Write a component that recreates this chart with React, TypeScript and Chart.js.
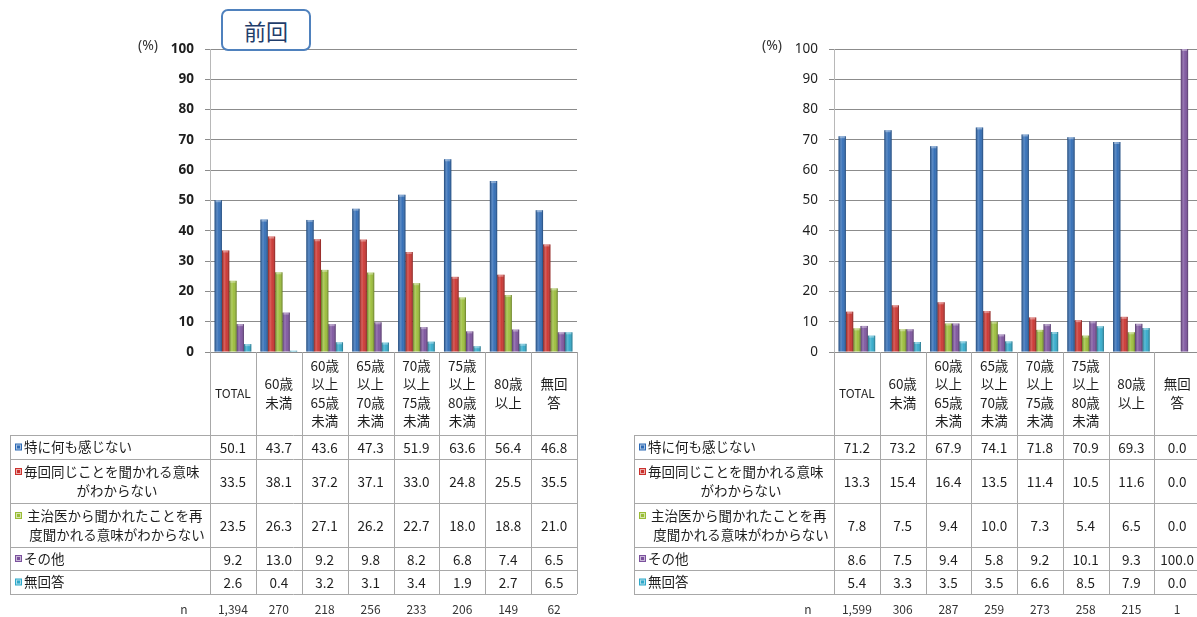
import React, { useEffect, useRef } from "react";
import { Chart, registerables } from "chart.js";

Chart.register(...registerables);

// ---------- data ----------
const categoryLines: string[][] = [
  ["TOTAL"],
  ["60歳", "未満"],
  ["60歳", "以上", "65歳", "未満"],
  ["65歳", "以上", "70歳", "未満"],
  ["70歳", "以上", "75歳", "未満"],
  ["75歳", "以上", "80歳", "未満"],
  ["80歳", "以上"],
  ["無回", "答"],
];
const categories = categoryLines.map((l) => l.join(""));

const seriesLabelLines: string[][] = [
  ["特に何も感じない"],
  ["毎回同じことを聞かれる意味", "がわからない"],
  [" 主治医から聞かれたことを再", "度聞かれる意味がわからない"],
  ["その他"],
  ["無回答"],
];
const seriesColors = ["#2d6ab5", "#cb312d", "#9abd36", "#7b519d", "#2fa9ca"];

// 前回 (previous survey)
const prevNothing = [50.1, 43.7, 43.6, 47.3, 51.9, 63.6, 56.4, 46.8];
const prevMeaningSame = [33.5, 38.1, 37.2, 37.1, 33.0, 24.8, 25.5, 35.5];
const prevMeaningAgain = [23.5, 26.3, 27.1, 26.2, 22.7, 18.0, 18.8, 21.0];
const prevOther = [9.2, 13.0, 9.2, 9.8, 8.2, 6.8, 7.4, 6.5];
const prevNoAnswer = [2.6, 0.4, 3.2, 3.1, 3.4, 1.9, 2.7, 6.5];
const prevN = ["1,394", "270", "218", "256", "233", "206", "149", "62"];

// 今回 (current survey)
const curNothing = [71.2, 73.2, 67.9, 74.1, 71.8, 70.9, 69.3, 0.0];
const curMeaningSame = [13.3, 15.4, 16.4, 13.5, 11.4, 10.5, 11.6, 0.0];
const curMeaningAgain = [7.8, 7.5, 9.4, 10.0, 7.3, 5.4, 6.5, 0.0];
const curOther = [8.6, 7.5, 9.4, 5.8, 9.2, 10.1, 9.3, 100.0];
const curNoAnswer = [5.4, 3.3, 3.5, 3.5, 6.6, 8.5, 7.9, 0.0];
const curN = ["1,599", "306", "287", "259", "273", "258", "215", "1"];

const yMin = 0;
const yMax = 100;
const yStep = 10;
const unitLabel = "(%)";
const prevTitle = "前回";

// ---------- layout / style constants ----------
const LABEL_COL_W = 200;
const HEADER_H = 83;
const ROW_H = [24, 44, 44, 23, 24];
const N_ROW_OFFSET = 257;
const CJK = '"Noto Sans CJK JP", "Noto Sans", sans-serif';
const TEXT = "#1e1e1e";
const BORDER = "#a8a8a8";

function seriesOf(which: "prev" | "cur"): number[][] {
  return which === "prev"
    ? [prevNothing, prevMeaningSame, prevMeaningAgain, prevOther, prevNoAnswer]
    : [curNothing, curMeaningSame, curMeaningAgain, curOther, curNoAnswer];
}

const barShadePlugin = {
  id: "barShade",
  afterDatasetsDraw(chart: any) {
    const ctx = chart.ctx;
    ctx.save();
    chart.data.datasets.forEach((_: any, di: number) => {
      const meta = chart.getDatasetMeta(di);
      meta.data.forEach((el: any) => {
        const p = el.getProps(["x", "y", "base", "width"], true);
        const l = p.x - p.width / 2;
        const r = p.x + p.width / 2;
        const top = Math.min(p.y, p.base);
        const h = Math.abs(p.base - p.y);
        if (h < 0.5) return;
        const g = ctx.createLinearGradient(l, 0, r, 0);
        g.addColorStop(0, "rgba(0,0,0,0.35)");
        g.addColorStop(0.35, "rgba(255,255,255,0.22)");
        g.addColorStop(0.6, "rgba(255,255,255,0.05)");
        g.addColorStop(1, "rgba(0,0,0,0.35)");
        ctx.fillStyle = g;
        ctx.fillRect(l, top, r - l, h);
        ctx.fillStyle = "rgba(255,255,255,0.35)";
        ctx.fillRect(l + 1, top, r - l - 2, Math.min(2, h));
      });
    });
    ctx.restore();
  },
};

function makeTablePlugin(which: "prev" | "cur") {
  const series = seriesOf(which);
  const nLabels = which === "prev" ? prevN : curN;
  return {
    id: "dataTable",
    afterDraw(chart: any) {
      const { ctx, chartArea } = chart;
      const xs = chart.scales.x;
      const n = categories.length;
      const left = chartArea.left;
      const right = chartArea.right;
      const top0 = chartArea.bottom;
      const cw = (right - left) / n;
      const labelLeft = left - LABEL_COL_W;
      const headerBottom = top0 + HEADER_H;
      const rowTops = [headerBottom];
      ROW_H.forEach((h) => rowTops.push(rowTops[rowTops.length - 1] + h));
      const tableBottom = rowTops[rowTops.length - 1];

      ctx.save();
      ctx.strokeStyle = BORDER;
      ctx.lineWidth = 1;
      const line = (x1: number, y1: number, x2: number, y2: number) => {
        ctx.beginPath();
        ctx.moveTo(x1, y1);
        ctx.lineTo(x2, y2);
        ctx.stroke();
      };
      for (let i = 0; i <= n; i++) {
        const x = Math.round(left + i * cw) + 0.5;
        line(x, top0, x, tableBottom);
      }
      rowTops.forEach((y) => {
        const yy = Math.round(y) + 0.5;
        line(labelLeft, yy, right, yy);
      });
      line(Math.round(labelLeft) + 0.5, headerBottom, Math.round(labelLeft) + 0.5, tableBottom);

      // header
      ctx.fillStyle = TEXT;
      ctx.textAlign = "center";
      ctx.textBaseline = "middle";
      const hc = (top0 + headerBottom) / 2;
      categoryLines.forEach((lines, i) => {
        const cx = xs.getPixelForValue(i);
        const sp = 18.5;
        const isLatin = lines.length === 1 && /^[A-Z]+$/.test(lines[0]);
        ctx.font = isLatin ? `12px ${CJK}` : `13.5px ${CJK}`;
        lines.forEach((t, k) => {
          ctx.fillText(t, cx, hc + (k - (lines.length - 1) / 2) * sp);
        });
      });

      // rows
      series.forEach((vals, si) => {
        const rt = rowTops[si];
        const rb = rowTops[si + 1];
        const rc = (rt + rb) / 2;
        const lines = seriesLabelLines[si];
        const sp = 19;
        ctx.font = `13.5px ${CJK}`;
        lines.forEach((t, k) => {
          const y = rc + (k - (lines.length - 1) / 2) * sp;
          if (k === 0) {
            ctx.fillStyle = seriesColors[si];
            ctx.fillRect(labelLeft + 5, y - 3.5, 7, 7);
            ctx.strokeStyle = "rgba(255,255,255,0.6)";
            ctx.strokeRect(labelLeft + 6.5, y - 2, 4, 4);
            ctx.fillStyle = TEXT;
            ctx.textAlign = "left";
            ctx.fillText(t, labelLeft + 14, y);
          } else {
            ctx.fillStyle = TEXT;
            ctx.textAlign = "center";
            ctx.fillText(t, labelLeft + LABEL_COL_W / 2 + 7, y);
          }
        });
        ctx.textAlign = "center";
        ctx.font = `13.5px ${CJK}`;
        vals.forEach((v, i) => {
          ctx.fillText(v.toFixed(1), xs.getPixelForValue(i), rc + 1);
        });
      });

      // n row
      const ny = top0 + N_ROW_OFFSET;
      ctx.font = `12px ${CJK}`;
      ctx.fillStyle = "#333";
      ctx.fillText("n", left - 26, ny);
      nLabels.forEach((t, i) => ctx.fillText(t, xs.getPixelForValue(i), ny));

      // unit label
      ctx.font = `14px "Noto Sans", sans-serif`;
      ctx.fillStyle = "#333";
      ctx.fillText(unitLabel, left - 62, chartArea.top - 3);
      ctx.restore();
    },
  };
}

function buildConfig(which: "prev" | "cur", padLeft: number, padRight: number, boldTicks: boolean): any {
  const series = seriesOf(which);
  return {
    type: "bar",
    data: {
      labels: categories,
      datasets: series.map((vals, i) => ({
        label: seriesLabelLines[i].join(""),
        data: vals,
        backgroundColor: seriesColors[i],
        borderWidth: 0,
        categoryPercentage: 0.8,
        barPercentage: 1.0,
      })),
    },
    options: {
      responsive: false,
      animation: false,
      layout: { padding: { left: padLeft, right: padRight, top: 49, bottom: 265 } },
      plugins: { legend: { display: false }, tooltip: { enabled: false } },
      scales: {
        x: { display: false },
        y: {
          min: yMin,
          max: yMax,
          afterFit: (s: any) => {
            s.width = 40;
          },
          ticks: {
            stepSize: yStep,
            padding: 11,
            color: TEXT,
            font: { family: '"Noto Sans", sans-serif', size: 13.5, weight: boldTicks ? "bold" : "normal" },
          },
          grid: { color: "#8c8c8c", tickLength: 5, lineWidth: 1 },
          border: { display: true, color: "#b8b8b8" },
        },
      },
    },
    plugins: [barShadePlugin, makeTablePlugin(which)],
  };
}

export default function App() {
  const leftRef = useRef<HTMLCanvasElement | null>(null);
  const rightRef = useRef<HTMLCanvasElement | null>(null);

  useEffect(() => {
    const c1 = new Chart(leftRef.current as HTMLCanvasElement, buildConfig("prev", 170, 23, true));
    const c2 = new Chart(rightRef.current as HTMLCanvasElement, buildConfig("cur", 194, 0, false));
    return () => {
      c1.destroy();
      c2.destroy();
    };
  }, []);

  return (
    <div
      style={{
        position: "absolute",
        left: 0,
        top: 0,
        width: 1197,
        height: 617,
        overflow: "hidden",
        background: "#ffffff",
      }}
    >
      <canvas
        ref={leftRef}
        width={600}
        height={617}
        style={{ position: "absolute", left: 0, top: 0, width: 600, height: 617 }}
      />
      <canvas
        ref={rightRef}
        width={600}
        height={617}
        style={{ position: "absolute", left: 600, top: 0, width: 600, height: 617 }}
      />
      <div
        style={{
          position: "absolute",
          left: 221,
          top: 9,
          width: 86,
          height: 38,
          border: "2.5px solid #4f81bd",
          borderRadius: 7,
          background: "#ffffff",
          color: "#1f3d6b",
          fontFamily: CJK,
          fontSize: 22,
          lineHeight: "38px",
          textAlign: "center",
          boxSizing: "content-box",
        }}
      >
        {prevTitle}
      </div>
    </div>
  );
}
